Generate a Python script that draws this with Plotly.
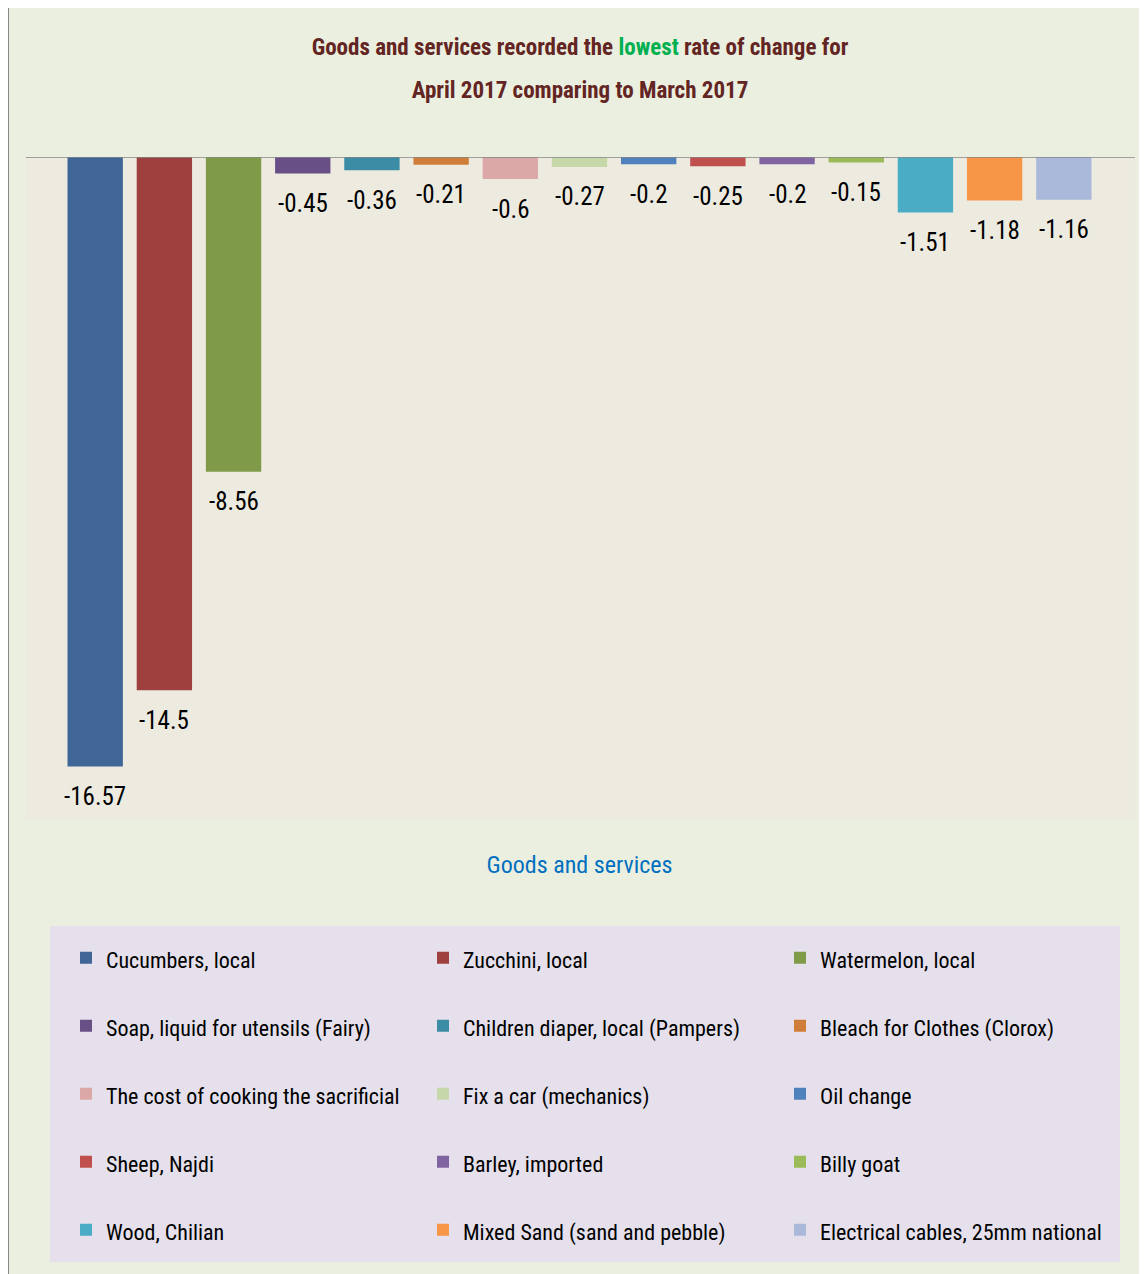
import plotly.graph_objects as go

# ---------------- data ----------------
categories = [
    "Cucumbers, local", "Zucchini, local", "Watermelon, local",
    "Soap, liquid for utensils (Fairy)", "Children diaper, local (Pampers)",
    "Bleach for Clothes (Clorox)", "The cost of cooking the sacrificial",
    "Fix a car (mechanics)", "Oil change", "Sheep, Najdi", "Barley, imported",
    "Billy goat", "Wood, Chilian", "Mixed Sand (sand and pebble)",
    "Electrical cables, 25mm national",
]
values = [-16.57, -14.5, -8.56, -0.45, -0.36, -0.21, -0.6, -0.27, -0.2,
          -0.25, -0.2, -0.15, -1.51, -1.18, -1.16]
colors = ["#406697", "#9E403E", "#7F9A48", "#684F86", "#3B8CA4", "#D07D39",
          "#DBA8A7", "#C6D7AA", "#4F81BD", "#C0504D", "#8064A2", "#9BBB59",
          "#4BACC6", "#F79646", "#AAB9D9"]

title_line1 = ("Goods and services recorded the "
               "<span style='color:#00B050'>lowest</span> rate of change for")
title_line2 = "April 2017 comparing to March 2017"
axis_title = "Goods and services"

FONT = "Roboto Condensed, Open Sans Condensed, sans-serif"

W, H = 1147, 1274
OFF = 8  # page offset of the figure inside the browser window


def f(p):
    return p - OFF


ML = f(26)
MT = f(157)
MR = W - f(1133)
MB = H - f(819)
PW, PH = W - ML - MR, H - MT - MB


def px_x(p):
    return (f(p) - ML) / PW


def px_y(p):
    return (H - MB - f(p)) / PH


fig = go.Figure()
for i, (name, v, c) in enumerate(zip(categories, values, colors)):
    fig.add_trace(go.Bar(
        x=[i], y=[v], name=f"<span style='font-size:22px'>{name}</span><br>\u00a0",
        marker=dict(color=c, line=dict(width=0)), width=0.8,
        hovertemplate=f"{name}: %{{y}}<extra></extra>",
    ))
    fig.add_annotation(x=i, y=v, xref="x", yref="y", text=f"{v:g}",
                       showarrow=False, yanchor="middle", yshift=-30,
                       font=dict(family=FONT, size=25, color="#000000"))

shapes = [
    # chart frame (top / left edges visible)
    dict(type="rect", xref="paper", yref="paper", layer="below",
         x0=px_x(8), x1=px_x(1170), y0=px_y(1300), y1=px_y(7),
         fillcolor="#EBEFDF", line=dict(color="#868686", width=2)),
    # plot area
    dict(type="rect", xref="paper", yref="paper", layer="below",
         x0=px_x(26), x1=px_x(1135), y0=px_y(819), y1=px_y(157),
         fillcolor="#EDEBE0", line=dict(width=0)),
    # legend box
    dict(type="rect", xref="paper", yref="paper", layer="below",
         x0=px_x(50), x1=px_x(1120), y0=px_y(1262), y1=px_y(926),
         fillcolor="#E5E0EC", line=dict(width=0)),
    # zero line
    dict(type="line", xref="paper", yref="y", layer="above",
         x0=px_x(26), x1=px_x(1135), y0=0, y1=0,
         line=dict(color="#868686", width=1.5)),
]

title_text = (f"<span style='font-size:23px'>{title_line1}</span><br>"
              f"<span style='font-size:23px'>{title_line2}</span>")

fig.update_layout(
    width=W, height=H,
    margin=dict(l=ML, r=MR, t=MT, b=MB, autoexpand=False),
    paper_bgcolor="#FFFFFF", plot_bgcolor="rgba(0,0,0,0)",
    barmode="overlay",
    shapes=shapes,
    title=dict(text=title_text, xref="container", yref="container",
               x=f(580) / W, xanchor="center", y=1 - 47 / H, yanchor="top",
               font=dict(family=FONT, size=33, color="#632523", weight=700)),
    xaxis=dict(range=[-1, 15], showgrid=False, zeroline=False,
               showticklabels=False, ticks="", showline=False,
               title=dict(text=axis_title, standoff=37,
                          font=dict(family=FONT, size=24, color="#0070C0"))),
    yaxis=dict(range=[-18, 0], visible=False, showgrid=False, zeroline=False),
    legend=dict(orientation="h", xref="container", yref="container",
                x=f(66) / W, xanchor="left", y=1 - f(935) / H, yanchor="top",
                entrywidth=312, entrywidthmode="pixels", valign="top",
                bgcolor="rgba(0,0,0,0)", borderwidth=0, traceorder="normal",
                font=dict(family=FONT, size=25, color="#000000")),
    showlegend=True,
)

fig.write_html("out.html")
